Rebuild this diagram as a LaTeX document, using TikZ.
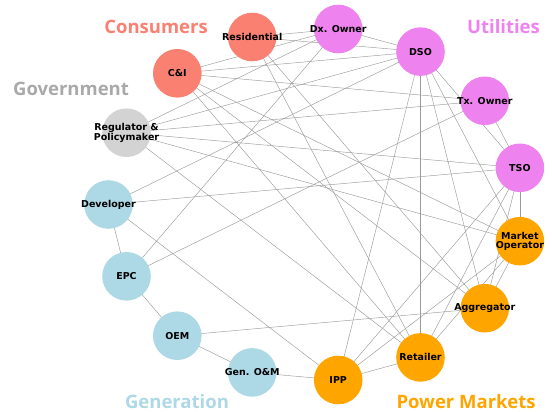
\documentclass[tikz,border=0pt]{standalone}
\usepackage{fontspec}
\setmainfont{DejaVu Sans}
\newfontfamily\grpfont{Open Sans}
\usetikzlibrary{backgrounds}
\definecolor{cons}{HTML}{FA8072}
\definecolor{util}{HTML}{EE82EE}
\definecolor{gov}{HTML}{D3D3D3}
\definecolor{govtxt}{HTML}{A9A9A9}
\definecolor{gen}{HTML}{ADD8E6}
\definecolor{mkt}{HTML}{FFA500}
\definecolor{edgec}{HTML}{9A9A9A}
\tikzset{
  actor/.style={circle, minimum size=48.6pt, inner sep=0pt, draw=none},
  every label/.style={font=\fontsize{9.5}{10.5}\selectfont\bfseries, align=center, text=black, inner sep=0pt},
  grp/.style={font=\grpfont\fontsize{18.5}{20}\selectfont\bfseries, inner sep=0pt},
  link/.style={draw=edgec, line width=0.45pt}
}
\begin{document}
\begin{tikzpicture}[x=1pt,y=-1pt]
\useasboundingbox (0,0) rectangle (552,412);
% nodes
\node[actor, fill=util, label=center:TSO] (TSO) at (519.9,167.8) {};
\node[actor, fill=util, label=center:Tx. Owner] (TxO) at (484.8,100.8) {};
\node[actor, fill=util, label=center:DSO] (DSO) at (420.5,51.6) {};
\node[actor, fill=util, label=center:Dx. Owner] (DxO) at (338.2,29.0) {};
\node[actor, fill=cons, label=center:Residential] (Res) at (252.2,37.0) {};
\node[actor, fill=cons, label=center:C\&I] (CI) at (177.3,73.3) {};
\node[actor, fill=gov, label={center:Regulator \&\\[-1pt]Policymaker}] (Reg) at (126.5,132.7) {};
\node[actor, fill=gen, label=center:Developer] (Dev) at (108.5,204.5) {};
\node[actor, fill=gen, label=center:EPC] (EPC) at (126.5,276.3) {};
\node[actor, fill=gen, label=center:OEM] (OEM) at (177.3,335.7) {};
\node[actor, fill=gen, label=center:Gen. O\&M] (GOM) at (252.2,372.4) {};
\node[actor, fill=mkt, label=center:IPP] (IPP) at (338.2,380.0) {};
\node[actor, fill=mkt, label=center:Retailer] (Ret) at (420.5,357.4) {};
\node[actor, fill=mkt, label=center:Aggregator] (Agg) at (484.8,308.2) {};
\node[actor, fill=mkt, label={center:Market\\[-1pt]Operator}] (MO) at (519.9,241.2) {};
% group labels
\node[grp, text=cons] (gCons) at (156,27) {Consumers};
\node[grp, text=util] (gUtil) at (503.5,27) {Utilities};
\node[grp, text=govtxt] (gGov) at (71,89) {Government};
\node[grp, text=gen] (gGen) at (177,402) {Generation};
\node[grp, text=mkt] (gMkt) at (466,402) {Power Markets};
% edges
\begin{scope}[on background layer]
\foreach \a/\b in {Dev/EPC, EPC/OEM, OEM/GOM, GOM/IPP, IPP/Ret, TSO/MO,
  EPC/DxO, EPC/TxO, OEM/Agg, Dev/IPP, Dev/DSO, Dev/TSO,
  IPP/DSO, IPP/TSO, IPP/MO, Ret/DSO,
  DSO/DxO, DSO/Res, DSO/CI, DSO/Reg, DSO/Agg, DSO/MO, DSO/TSO,
  TxO/TSO, CI/TxO, Reg/TxO, CI/DxO, Res/DxO, Reg/TSO, Res/Ret, Reg/DxO,
  Res/Agg, CI/Agg, Reg/MO, Reg/Ret, Ret/MO, Ret/TSO, Agg/TSO, Agg/MO, CI/MO, CI/Ret}
  \draw[link] (\a.center) -- (\b.center);
\end{scope}
\end{tikzpicture}
\end{document}
